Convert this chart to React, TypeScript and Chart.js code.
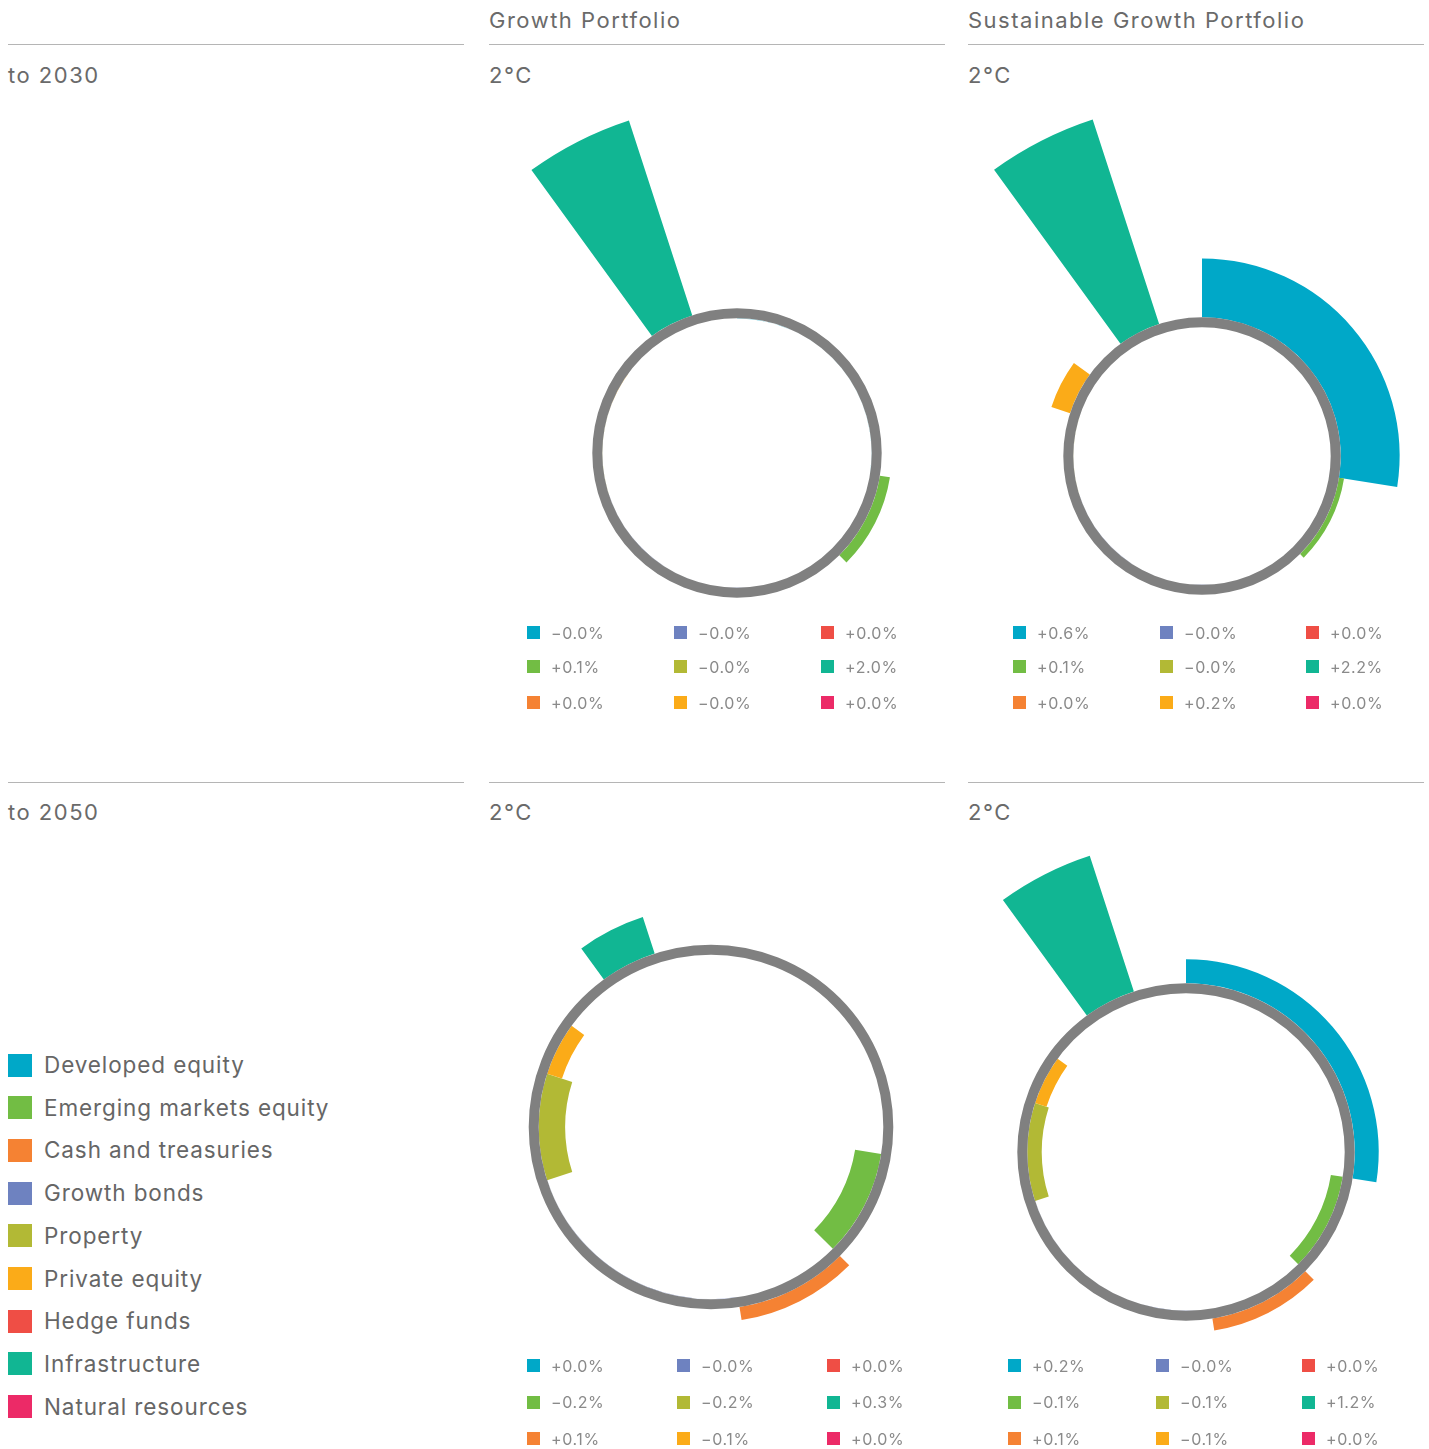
import React, { useEffect, useRef } from "react";
import { Chart, registerables } from "chart.js";

Chart.register(...registerables);

// ---------- data ----------
const categories = [
  "Developed equity",
  "Emerging markets equity",
  "Cash and treasuries",
  "Growth bonds",
  "Property",
  "Private equity",
  "Hedge funds",
  "Infrastructure",
  "Natural resources",
];
const categoryColors = [
  "#00a8c8",
  "#72bd44",
  "#f58233",
  "#6e82c0",
  "#b2b935",
  "#fbab18",
  "#ef4e45",
  "#11b693",
  "#ec2a67",
];
// portfolio allocation (%), sets the angular width of each slice
const allocationPct = [27.5, 10, 10, 22.5, 10, 5, 5, 5, 5];

// climate impact (% per year), in category order
const growth2030 = [-0.001, 0.1, 0, -0.001, -0.001, -0.001, 0, 2.02, 0];
const sustainable2030 = [0.6, 0.052, 0, -0.001, -0.001, 0.2, 0, 2.19, 0];
const growth2050 = [0, -0.22, 0.11, -0.001, -0.22, -0.13, 0, 0.32, 0];
const sustainable2050 = [0.2, -0.1, 0.1, -0.001, -0.12, -0.1, 0, 1.19, 0];

const portfolioTitles = ["Growth Portfolio", "Sustainable Growth Portfolio"];
const horizonLabels = ["to 2030", "to 2050"];
const scenarioLabel = "2°C";

// ---------- layout ----------
const FONT = "Inter, 'Open Sans', sans-serif";
const COL_X = [8, 489, 968];
const COL_W = 456;
const RING_WIDTH = 10;
const HALF_CANVAS = 370;

const chartSpecs = [
  { values: growth2030, cx: 737, cy: 453, ringRadius: 139.7, pxPerUnit: 101.5, legendX: [527, 674, 821], legendY: [632.5, 666.5, 702.5] },
  { values: sustainable2030, cx: 1202, cy: 456, ringRadius: 133.7, pxPerUnit: 98.2, legendX: [1013, 1160, 1306], legendY: [632.5, 666.5, 702.5] },
  { values: growth2050, cx: 711, cy: 1127, ringRadius: 177.3, pxPerUnit: 120, legendX: [527, 677, 827], legendY: [1365.5, 1402, 1438.5] },
  { values: sustainable2050, cx: 1186, cy: 1152, ringRadius: 163.7, pxPerUnit: 120, legendX: [1008, 1156, 1302], legendY: [1365.5, 1402, 1438.5] },
];

// Bars start at the edge of the ring: outward for gains, inward for losses.
const ringBarsPlugin = {
  id: "ringBars",
  afterDatasetsUpdate(chart: any, _args: any, opts: any) {
    const scale = chart.scales.r;
    const half = opts.half || 0;
    const r0 = scale.getDistanceFromCenterForValue(0);
    const data = chart.data.datasets[0].data as number[];
    chart.getDatasetMeta(0).data.forEach((arc: any, i: number) => {
      const v = data[i];
      const rv = scale.getDistanceFromCenterForValue(v);
      if (v >= 0) {
        arc.innerRadius = r0 + half;
        arc.outerRadius = rv + half;
      } else {
        arc.innerRadius = Math.max(0, rv - half);
        arc.outerRadius = r0 - half;
      }
    });
  },
};

function fmt(v: number) {
  return (v < 0 ? "\u2212" : "+") + Math.abs(v).toFixed(1) + "%";
}

function RingChart({ spec }: { spec: any }) {
  const ref = useRef<HTMLCanvasElement>(null);
  useEffect(() => {
    const S = HALF_CANVAS;
    const minV = -spec.ringRadius / spec.pxPerUnit;
    const maxV = (S - spec.ringRadius) / spec.pxPerUnit;
    const chart = new Chart(ref.current as HTMLCanvasElement, {
      type: "polarArea",
      data: {
        labels: categories,
        datasets: [
          {
            data: spec.values,
            backgroundColor: categoryColors,
            borderWidth: 0,
            angle: allocationPct.map((p) => p * 3.6),
          } as any,
        ],
      },
      options: {
        responsive: false,
        animation: false,
        events: [],
        layout: { padding: 0 },
        plugins: {
          legend: { display: false },
          tooltip: { enabled: false },
          ringBars: { half: RING_WIDTH / 2 },
        } as any,
        scales: {
          r: {
            min: minV,
            max: maxV,
            startAngle: 0,
            angleLines: { display: false },
            pointLabels: { display: false },
            grid: { display: true, circular: true, color: "#808080", lineWidth: RING_WIDTH, z: 1 },
            ticks: { display: false, z: 1 },
            afterBuildTicks: (s: any) => {
              s.ticks = [{ value: 0 }];
            },
          } as any,
        },
      },
      plugins: [ringBarsPlugin],
    });
    return () => chart.destroy();
  }, []);
  return (
    <canvas
      ref={ref}
      width={HALF_CANVAS * 2}
      height={HALF_CANVAS * 2}
      style={{ position: "absolute", left: spec.cx - HALF_CANVAS, top: spec.cy - HALF_CANVAS }}
    />
  );
}

function MiniLegend({ spec }: { spec: any }) {
  return (
    <>
      {spec.values.map((v: number, i: number) => {
        const col = Math.floor(i / 3);
        const row = i % 3;
        return (
          <div
            key={i}
            style={{
              position: "absolute",
              left: spec.legendX[col],
              top: spec.legendY[row] - 10,
              height: 20,
              display: "flex",
              alignItems: "center",
              whiteSpace: "nowrap",
            }}
          >
            <span style={{ width: 13, height: 13, background: categoryColors[i], display: "inline-block" }} />
            <span style={{ marginLeft: 11, fontSize: 16, color: "#8a8a8a", lineHeight: "20px", letterSpacing: 0.6 }}>{fmt(v)}</span>
          </div>
        );
      })}
    </>
  );
}

function Label({ x, y, text }: { x: number; y: number; text: string }) {
  return (
    <div
      style={{
        position: "absolute",
        left: x,
        top: y - 12,
        height: 24,
        lineHeight: "24px",
        fontSize: 22,
        color: "#6a6a6a",
        whiteSpace: "nowrap",
        letterSpacing: 1.5,
      }}
    >
      {text}
    </div>
  );
}

function Rule({ x, y }: { x: number; y: number }) {
  return <div style={{ position: "absolute", left: x, top: y, width: COL_W, height: 1, background: "#b5b5b5" }} />;
}

export default function App() {
  const rowLineY = [44, 782];
  const rowLabelY = [75, 812];
  return (
    <div
      style={{
        position: "fixed",
        left: 0,
        top: 0,
        width: 1429,
        height: 1449,
        overflow: "hidden",
        background: "#ffffff",
        fontFamily: FONT,
      }}
    >
      <Label x={COL_X[1]} y={19.5} text={portfolioTitles[0]} />
      <Label x={COL_X[2]} y={19.5} text={portfolioTitles[1]} />
      {rowLineY.map((y, r) => (
        <React.Fragment key={r}>
          <Rule x={COL_X[0]} y={y} />
          <Rule x={COL_X[1]} y={y} />
          <Rule x={COL_X[2]} y={y} />
          <Label x={COL_X[0]} y={rowLabelY[r]} text={horizonLabels[r]} />
          <Label x={COL_X[1]} y={rowLabelY[r]} text={scenarioLabel} />
          <Label x={COL_X[2]} y={rowLabelY[r]} text={scenarioLabel} />
        </React.Fragment>
      ))}
      {chartSpecs.map((s, i) => (
        <RingChart key={i} spec={s} />
      ))}
      {chartSpecs.map((s, i) => (
        <MiniLegend key={i} spec={s} />
      ))}
      {categories.map((c, i) => (
        <div
          key={c}
          style={{
            position: "absolute",
            left: 8,
            top: 1065 + i * 42.7 - 14,
            height: 28,
            display: "flex",
            alignItems: "center",
            whiteSpace: "nowrap",
          }}
        >
          <span style={{ width: 24, height: 23, background: categoryColors[i], display: "inline-block" }} />
          <span style={{ marginLeft: 12, fontSize: 22.5, color: "#666666", lineHeight: "28px", letterSpacing: 0.9 }}>{c}</span>
        </div>
      ))}
    </div>
  );
}
